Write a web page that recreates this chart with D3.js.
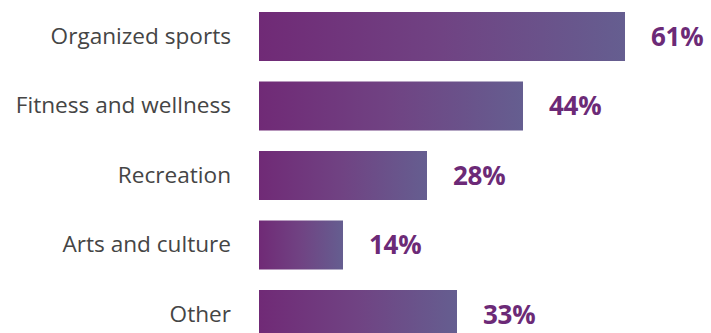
<!DOCTYPE html>
<html>
<head>
<meta charset="utf-8">
<script src="https://cdn.jsdelivr.net/npm/d3@7"></script>
<style>
  html, body { margin: 0; padding: 0; background: #ffffff; }
  svg { display: block; }
</style>
</head>
<body>
<svg id="chart" width="711" height="333"></svg>
<script>
// Share of respondents by activity type
const categories = ["Organized sports", "Fitness and wellness", "Recreation", "Arts and culture", "Other"];
const values = [61, 44, 28, 14, 33];
const valueLabels = ["61%", "44%", "28%", "14%", "33%"];

const svg = d3.select("#chart");

const x = d3.scaleLinear().domain([0, 100]).range([259, 859]);
const y = d3.scaleBand()
  .domain(categories)
  .range([12, 339])
  .paddingInner(0.295)
  .paddingOuter(0);

// Horizontal purple-to-slate gradient applied to each bar
const defs = svg.append("defs");
const grad = defs.append("linearGradient")
  .attr("id", "barGrad")
  .attr("x1", "0%").attr("y1", "0%")
  .attr("x2", "100%").attr("y2", "0%");
grad.append("stop").attr("offset", "0%").attr("stop-color", "#702a76");
grad.append("stop").attr("offset", "50%").attr("stop-color", "#704383");
grad.append("stop").attr("offset", "100%").attr("stop-color", "#655e90");

const rows = categories.map((c, i) => ({ cat: c, value: values[i], label: valueLabels[i] }));

svg.append("g").selectAll("rect")
  .data(rows)
  .join("rect")
  .attr("x", x(0))
  .attr("y", d => y(d.cat))
  .attr("width", d => x(d.value) - x(0))
  .attr("height", y.bandwidth())
  .attr("fill", "url(#barGrad)");

// Category names, right-aligned to the left of the bars
svg.append("g").selectAll("text")
  .data(rows)
  .join("text")
  .attr("x", 231)
  .attr("y", d => y(d.cat) + y.bandwidth() / 2)
  .attr("dy", "0.33em")
  .attr("text-anchor", "end")
  .attr("font-family", "'Open Sans', sans-serif")
  .attr("font-size", 22.6)
  .attr("fill", "#454545")
  .text(d => d.cat);

// Value labels after each bar
svg.append("g").selectAll("text")
  .data(rows)
  .join("text")
  .attr("x", d => x(d.value) + 26)
  .attr("y", d => y(d.cat) + y.bandwidth() / 2)
  .attr("dy", "0.36em")
  .attr("font-family", "'Open Sans', sans-serif")
  .attr("font-weight", 700)
  .attr("font-size", 26)
  .attr("letter-spacing", "-0.3px")
  .attr("fill", "#6c2a77")
  .text(d => d.label);
</script>
</body>
</html>
